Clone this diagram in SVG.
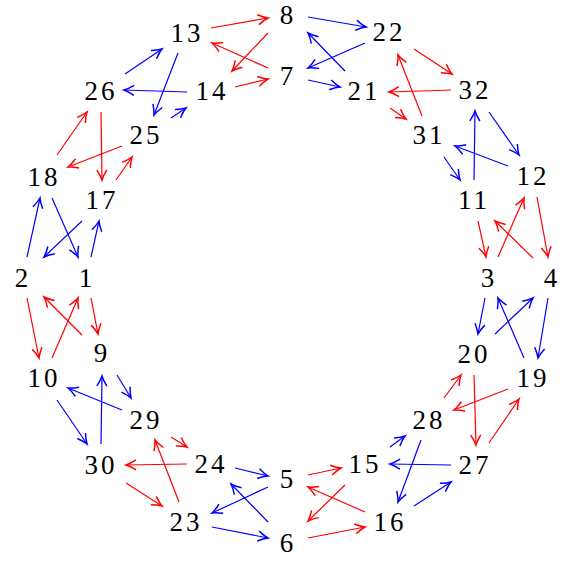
<svg xmlns="http://www.w3.org/2000/svg" width="569" height="561" viewBox="0 0 569 561">
<defs>
<style>
.n text{font-family:'Liberation Serif',serif;font-size:27px;letter-spacing:3px;text-anchor:middle;fill:#000}
.r{stroke:#ff0000;stroke-width:1.2;fill:none;marker-end:url(#ar)}
.b{stroke:#0000ff;stroke-width:1.2;fill:none;marker-end:url(#ab)}
</style>
<marker id="ar" markerUnits="userSpaceOnUse" markerWidth="16" markerHeight="16" viewBox="-13 -8 16 16" refX="0" refY="0" orient="auto">
<path d="M-10,-5 Q-4,-1.2 0,0 Q-4,1.2 -10,5" fill="none" stroke="#ff0000" stroke-width="1.5"/>
</marker>
<marker id="ab" markerUnits="userSpaceOnUse" markerWidth="16" markerHeight="16" viewBox="-13 -8 16 16" refX="0" refY="0" orient="auto">
<path d="M-10,-5 Q-4,-1.2 0,0 Q-4,1.2 -10,5" fill="none" stroke="#0000ff" stroke-width="1.5"/>
</marker>
</defs>
<g id="connectors">
<line class="r" x1="211" y1="28" x2="268" y2="18"/>
<line class="r" x1="268" y1="68" x2="212" y2="43"/>
<line class="r" x1="268" y1="33" x2="232" y2="71"/>
<line class="r" x1="235" y1="87" x2="268" y2="79"/>
<line class="b" x1="125" y1="74" x2="162" y2="49"/>
<line class="b" x1="178" y1="53" x2="154" y2="115"/>
<line class="b" x1="187" y1="92" x2="124" y2="90"/>
<line class="b" x1="171" y1="118" x2="186" y2="108"/>
<line class="r" x1="57" y1="155" x2="87" y2="112"/>
<line class="r" x1="101" y1="112" x2="102" y2="180"/>
<line class="r" x1="122" y1="146" x2="68" y2="167"/>
<line class="r" x1="116" y1="180" x2="132" y2="157"/>
<line class="b" x1="308" y1="17" x2="366" y2="27"/>
<line class="b" x1="365" y1="43" x2="308" y2="68"/>
<line class="b" x1="345" y1="71" x2="308" y2="33"/>
<line class="b" x1="308" y1="80" x2="340" y2="87"/>
<line class="r" x1="414" y1="49" x2="452" y2="74"/>
<line class="r" x1="422" y1="116" x2="398" y2="55"/>
<line class="r" x1="451" y1="90" x2="389" y2="92"/>
<line class="r" x1="390" y1="108" x2="406" y2="119"/>
<line class="b" x1="489" y1="112" x2="519" y2="155"/>
<line class="b" x1="474" y1="180" x2="475" y2="111"/>
<line class="b" x1="508" y1="166" x2="455" y2="146"/>
<line class="b" x1="444" y1="157" x2="460" y2="180"/>
<line class="b" x1="27" y1="257" x2="40" y2="198"/>
<line class="b" x1="52" y1="198" x2="78" y2="257"/>
<line class="b" x1="82" y1="221" x2="44" y2="257"/>
<line class="b" x1="91" y1="257" x2="99" y2="221"/>
<line class="r" x1="27" y1="298" x2="39" y2="358"/>
<line class="r" x1="52" y1="358" x2="78" y2="298"/>
<line class="r" x1="82" y1="335" x2="44" y2="297"/>
<line class="r" x1="91" y1="298" x2="98" y2="334"/>
<line class="r" x1="478" y1="221" x2="486" y2="257"/>
<line class="r" x1="498" y1="257" x2="524" y2="198"/>
<line class="r" x1="533" y1="258" x2="495" y2="221"/>
<line class="r" x1="537" y1="197" x2="548" y2="257"/>
<line class="b" x1="485" y1="298" x2="478" y2="334"/>
<line class="b" x1="495" y1="334" x2="533" y2="298"/>
<line class="b" x1="524" y1="358" x2="498" y2="298"/>
<line class="b" x1="548" y1="298" x2="538" y2="358"/>
<line class="b" x1="117" y1="375" x2="131" y2="398"/>
<line class="b" x1="122" y1="410" x2="68" y2="388"/>
<line class="b" x1="57" y1="400" x2="87" y2="444"/>
<line class="b" x1="101" y1="444" x2="102" y2="376"/>
<line class="r" x1="171" y1="437" x2="187" y2="447"/>
<line class="r" x1="187" y1="464" x2="126" y2="465"/>
<line class="r" x1="126" y1="483" x2="162" y2="506"/>
<line class="r" x1="179" y1="502" x2="155" y2="440"/>
<line class="b" x1="235" y1="468" x2="268" y2="476"/>
<line class="b" x1="268" y1="487" x2="212" y2="513"/>
<line class="b" x1="268" y1="522" x2="231" y2="484"/>
<line class="b" x1="212" y1="527" x2="268" y2="538"/>
<line class="r" x1="444" y1="398" x2="461" y2="375"/>
<line class="r" x1="508" y1="389" x2="454" y2="410"/>
<line class="r" x1="474" y1="375" x2="476" y2="445"/>
<line class="r" x1="489" y1="443" x2="519" y2="399"/>
<line class="b" x1="390" y1="447" x2="405" y2="436"/>
<line class="b" x1="421" y1="440" x2="398" y2="502"/>
<line class="b" x1="451" y1="465" x2="390" y2="464"/>
<line class="b" x1="414" y1="506" x2="451" y2="482"/>
<line class="r" x1="308" y1="475" x2="341" y2="468"/>
<line class="r" x1="345" y1="485" x2="308" y2="521"/>
<line class="r" x1="365" y1="512" x2="308" y2="487"/>
<line class="r" x1="308" y1="538" x2="365" y2="527"/>
</g>
<g class="n" font-family="Liberation Serif, serif">
<g id="n8"><text x="288" y="24">8</text></g>
<g id="n7"><text x="288" y="85">7</text></g>
<g id="n22"><text x="389" y="41">22</text></g>
<g id="n21"><text x="364" y="100">21</text></g>
<g id="n13"><text x="187" y="42">13</text></g>
<g id="n14"><text x="212" y="100">14</text></g>
<g id="n26"><text x="101" y="100">26</text></g>
<g id="n25"><text x="146" y="144">25</text></g>
<g id="n32"><text x="475" y="99">32</text></g>
<g id="n31"><text x="429" y="144">31</text></g>
<g id="n12"><text x="533" y="185">12</text></g>
<g id="n11"><text x="474" y="209">11</text></g>
<g id="n18"><text x="44" y="186">18</text></g>
<g id="n17"><text x="102" y="209">17</text></g>
<g id="n2"><text x="23" y="287">2</text></g>
<g id="n1"><text x="87" y="287">1</text></g>
<g id="n3"><text x="489" y="287">3</text></g>
<g id="n4"><text x="552" y="287">4</text></g>
<g id="n9"><text x="102" y="362">9</text></g>
<g id="n10"><text x="44" y="387">10</text></g>
<g id="n20"><text x="474" y="363">20</text></g>
<g id="n19"><text x="533" y="387">19</text></g>
<g id="n29"><text x="146" y="429">29</text></g>
<g id="n30"><text x="101" y="474">30</text></g>
<g id="n24"><text x="211" y="473">24</text></g>
<g id="n28"><text x="429" y="429">28</text></g>
<g id="n15"><text x="365" y="473">15</text></g>
<g id="n27"><text x="475" y="474">27</text></g>
<g id="n5"><text x="288" y="488">5</text></g>
<g id="n23"><text x="186" y="531">23</text></g>
<g id="n16"><text x="390" y="531">16</text></g>
<g id="n6"><text x="288" y="552">6</text></g>
</g>
</svg>
